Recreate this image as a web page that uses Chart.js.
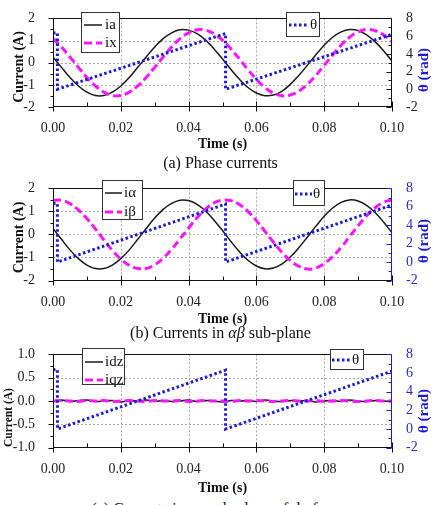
<!DOCTYPE html>
<html><head><meta charset="utf-8">
<script src="https://cdn.jsdelivr.net/npm/chart.js@4"></script>
<style>
html,body{margin:0;padding:0;background:#fff;}
body{width:441px;height:505px;position:relative;overflow:hidden;font-family:'Liberation Serif','Times New Roman',serif;}
.cv{position:absolute;left:0;width:441px;}
.cap{position:absolute;left:0;width:441px;text-align:center;font-size:16px;line-height:16px;color:#111;white-space:nowrap;}
</style></head><body>
<div class="cv" style="top:0px;height:155px"><canvas id="ca" width="441" height="155"></canvas></div>
<div class="cv" style="top:170px;height:157px"><canvas id="cb" width="441" height="157"></canvas></div>
<div class="cv" style="top:335px;height:163px"><canvas id="cc" width="441" height="163"></canvas></div>
<div class="cap" style="top:155px">(a) Phase currents</div>
<div class="cap" style="top:325px">(b) Currents in <i>αβ</i> sub-plane</div>
<div class="cap" style="top:501px">(c) Currents in xy sub-plane of dq frame</div>
<script>
const FONT = "'Liberation Serif','Times New Roman',serif";

// time samples (s)
const timeS = [0,0.0025,0.005,0.0075,0.01,0.0125,0.015,0.0175,0.02,0.0225,0.025,0.0275,0.03,0.0325,0.035,0.0375,0.04,0.0425,0.045,0.0475,0.05,0.0525,0.055,0.0575,0.06,0.0625,0.065,0.0675,0.07,0.0725,0.075,0.0775,0.08,0.0825,0.085,0.0875,0.09,0.0925,0.095,0.0975,0.1];
// (a) phase currents
const ia = [0.26,-0.21,-0.67,-1.05,-1.33,-1.48,-1.48,-1.33,-1.05,-0.67,-0.21,0.26,0.71,1.09,1.35,1.49,1.47,1.31,1.02,0.62,0.17,-0.31,-0.75,-1.12,-1.37,-1.49,-1.46,-1.29,-0.98,-0.58,-0.12,0.35,0.79,1.15,1.39,1.50,1.45,1.26,0.95,0.54,0.07];
const ix = [1.09,0.71,0.26,-0.21,-0.67,-1.05,-1.33,-1.48,-1.48,-1.33,-1.05,-0.67,-0.21,0.26,0.71,1.09,1.35,1.49,1.47,1.31,1.02,0.62,0.17,-0.31,-0.75,-1.12,-1.37,-1.49,-1.46,-1.29,-0.98,-0.58,-0.12,0.35,0.79,1.15,1.39,1.50,1.45,1.26,0.95];
// (b) alpha-beta currents
const iAlpha = [0.26,-0.21,-0.67,-1.05,-1.33,-1.48,-1.48,-1.33,-1.05,-0.67,-0.21,0.26,0.71,1.09,1.35,1.49,1.47,1.31,1.02,0.62,0.17,-0.31,-0.75,-1.12,-1.37,-1.49,-1.46,-1.29,-0.98,-0.58,-0.12,0.35,0.79,1.15,1.39,1.50,1.45,1.26,0.95,0.54,0.07];
const iBeta = [1.48,1.48,1.34,1.07,0.69,0.24,-0.24,-0.69,-1.07,-1.34,-1.48,-1.48,-1.32,-1.03,-0.65,-0.19,0.28,0.73,1.10,1.37,1.49,1.47,1.30,1.00,0.60,0.14,-0.33,-0.77,-1.13,-1.38,-1.50,-1.46,-1.27,-0.96,-0.56,-0.09,0.38,0.81,1.16,1.40,1.50];
// (c) dz / qz currents
const idz = [0.00,0.02,-0.01,0.01,0.02,-0.01,0.00,0.01,-0.02,0.01,0.00,0.02,-0.01,0.01,-0.01,0.00,0.02,-0.01,0.01,0.00,-0.02,0.01,0.00,0.01,-0.01,0.02,0.00,-0.01,0.01,0.00,0.01,-0.02,0.00,0.01,-0.01,0.02,0.00,-0.01,0.01,0.00,-0.01];
const iqz = [0.00,0.01,0.00,-0.01,0.01,0.00,0.01,-0.01,0.00,0.01,0.00,-0.01,0.01,0.00,0.00,0.01,-0.01,0.00,0.01,0.00,0.00,-0.01,0.01,0.00,0.01,0.00,-0.01,0.00,0.01,0.00,0.00,0.01,-0.01,0.00,0.01,0.00,-0.01,0.00,0.01,0.00,0.00];
// rotor angle theta (rad)
const thetaT = [0,0.0013,0.0013,0.0509,0.0509,0.1];
const thetaV = [6.35,6.35,0,6.3,0,6.2];

const BLACK='#1a1a1a', MAG='#ff14ff', BLUE='#1c1cd8';

function pts(t, v){ return t.map((tt,i)=>({x:tt,y:v[i]})); }
function curve(label, t, v, color, width, dash, tension){
  return {label, data: pts(t,v), borderColor:color, borderWidth:width, borderDash:dash, tension:tension,
          pointRadius:0, fill:false, yAxisID:'y', borderCapStyle:'butt'};
}
function thetaDs(){
  const d = curve('θ', thetaT, thetaV, BLUE, 3, [2.5,2.5], 0);
  d.yAxisID='y1'; return d;
}

const deco = {
  id:'deco',
  beforeDatasetsDraw(chart, args, o){
    const {ctx, chartArea:a} = chart; const x=chart.scales.x, y=chart.scales.y;
    ctx.save(); ctx.strokeStyle='#a8a8a8'; ctx.lineWidth=1; ctx.setLineDash([2,2]);
    x.ticks.forEach(t=>{const p=Math.round(x.getPixelForValue(t.value))+0.5; if(p<a.left+3||p>a.right-3)return;
      ctx.beginPath();ctx.moveTo(p,a.top);ctx.lineTo(p,a.bottom);ctx.stroke();});
    y.ticks.forEach(t=>{const p=Math.round(y.getPixelForValue(t.value))+0.5; if(p<a.top+3||p>a.bottom-3)return;
      ctx.beginPath();ctx.moveTo(a.left,p);ctx.lineTo(a.right,p);ctx.stroke();});
    ctx.restore();
  },
  afterDatasetsDraw(chart, args, o){
    const {ctx, chartArea:a} = chart; const x=chart.scales.x, y=chart.scales.y, y1=chart.scales.y1;
    const L=Math.round(a.left)+0.5, R=Math.round(a.right)-0.5, T=Math.round(a.top)+0.5, B=Math.round(a.bottom)-0.5;
    ctx.save(); ctx.lineWidth=1; ctx.setLineDash([]);
    const seg=(x1,yy1,x2,yy2,c)=>{ctx.strokeStyle=c;ctx.beginPath();ctx.moveTo(x1,yy1);ctx.lineTo(x2,yy2);ctx.stroke();};
    const K='#111', RC=o.rightColor;
    seg(L-0.5,T,R,T,K); seg(L-0.5,B,R,B,K); seg(L,T,L,B,K); seg(R,T,R,B+0.5,RC);
    const xt=x.ticks.map(t=>t.value);
    xt.forEach(v=>{const p=Math.round(x.getPixelForValue(v))+0.5; seg(p,B-5,p,B+5,K);});
    for(let i=0;i<xt.length-1;i++){const p=Math.round(x.getPixelForValue((xt[i]+xt[i+1])/2))+0.5; seg(p,B-4,p,B,K);}
    const yt=y.ticks.map(t=>t.value);
    yt.forEach(v=>{const p=Math.round(y.getPixelForValue(v))+0.5; seg(L-5,p,L,p,K);});
    for(let i=0;i<yt.length-1;i++){const p=Math.round(y.getPixelForValue((yt[i]+yt[i+1])/2))+0.5; seg(L-3,p,L,p,K);}
    const rt=y1.ticks.map(t=>t.value);
    rt.forEach(v=>{const p=Math.round(y1.getPixelForValue(v))+0.5; seg(R-5,p,R,p,RC);});
    for(let i=0;i<rt.length-1;i++){const p=Math.round(y1.getPixelForValue((rt[i]+rt[i+1])/2))+0.5; seg(R-3,p,R,p,RC);}
    // axis titles
    ctx.textAlign='center'; ctx.textBaseline='middle';
    const lt=o.leftTitle, rtt=o.rightTitle;
    ctx.fillStyle='#111'; ctx.font=`bold ${lt.size}px ${FONT}`;
    ctx.save(); ctx.translate(lt.x,lt.y); ctx.rotate(-Math.PI/2); ctx.fillText(lt.text,0,0); ctx.restore();
    ctx.fillStyle=BLUE; ctx.font=`bold ${rtt.size}px ${FONT}`;
    ctx.save(); ctx.translate(rtt.x,rtt.y); ctx.rotate(-Math.PI/2); ctx.fillText(rtt.text,0,0); ctx.restore();
    // legends
    o.legends.forEach(lg=>{
      ctx.fillStyle='#fff'; ctx.fillRect(lg.x0,lg.y0,lg.x1-lg.x0,lg.y1-lg.y0);
      ctx.strokeStyle='#333'; ctx.lineWidth=1; ctx.strokeRect(lg.x0+0.5,lg.y0+0.5,lg.x1-lg.x0-1,lg.y1-lg.y0-1);
      lg.items.forEach(it=>{
        const ds=chart.data.datasets[it.ds];
        ctx.save(); ctx.strokeStyle=ds.borderColor; ctx.lineWidth=ds.borderWidth; ctx.setLineDash(ds.borderDash||[]);
        ctx.beginPath(); ctx.moveTo(lg.sx0,it.y); ctx.lineTo(lg.sx1,it.y); ctx.stroke(); ctx.restore();
        ctx.fillStyle='#111'; ctx.font=`15px ${FONT}`; ctx.textAlign='left'; ctx.textBaseline='middle';
        ctx.fillText(ds.label, lg.tx, it.y);
      });
    });
    ctx.restore();
  }
};

function makeChart(id, s){
  return new Chart(document.getElementById(id), {
    type:'line',
    data:{datasets:s.datasets},
    options:{
      responsive:false, animation:false, devicePixelRatio:1,
      layout:{padding:{top:s.plotTop,left:0,right:0,bottom:0}},
      plugins:{legend:{display:false}, tooltip:{enabled:false}, deco:s.deco},
      scales:{
        x:{type:'linear', min:0, max:0.1, grid:{display:false}, border:{display:false},
           ticks:{stepSize:0.02, padding:5, color:'#222', maxRotation:0, autoSkip:false,
                  font:{family:FONT,size:14}, callback:v=>v.toFixed(2)},
           title:{display:true, text:'Time (s)', color:'#111', font:{family:FONT,size:14,weight:'bold'},
                  padding:{top:0,bottom:s.H-s.timeY-8.4}},
           afterFit:sc=>{sc.height=s.H-s.plotBottom;}},
        y:{position:'left', min:s.yMin, max:s.yMax, grid:{display:false}, border:{display:false},
           ticks:{stepSize:s.yStep, padding:10, color:'#222', autoSkip:false, font:{family:FONT,size:14},
                  callback:v=>v.toFixed(s.yDec)},
           afterFit:sc=>{sc.width=53;}},
        y1:{position:'right', min:-2, max:8, grid:{display:false}, border:{display:false},
           ticks:{stepSize:2, padding:6, autoSkip:false, color:s.deco.rightTickColor, font:{family:FONT,size:14}},
           afterFit:sc=>{sc.width=49;}}
      }
    },
    plugins:[deco]
  });
}

makeChart('ca', {
  H:155, plotTop:11.5, plotBottom:107, timeY:144, yMin:-2, yMax:2, yStep:1, yDec:0,
  datasets:[thetaDs(), curve('ix',timeS,ix,MAG,3,[8,4],0.4), curve('ia',timeS,ia,BLACK,1.5,[],0.4)],
  deco:{rightColor:'#111', rightTickColor:'#222',
    leftTitle:{text:'Current (A)', x:19, y:67, size:14},
    rightTitle:{text:'θ (rad)', x:424, y:70, size:15},
    legends:[
      {x0:81,y0:12,x1:120,y1:53,sx0:84,sx1:102,tx:105,items:[{ds:2,y:25},{ds:1,y:43}]},
      {x0:286,y0:12,x1:320,y1:37,sx0:289,sx1:308,tx:310,items:[{ds:0,y:25}]}
    ]}
});
makeChart('cb', {
  H:157, plotTop:12.5, plotBottom:110.5, timeY:149, yMin:-2, yMax:2, yStep:1, yDec:0,
  datasets:[thetaDs(), curve('iβ',timeS,iBeta,MAG,3,[8,4],0.4), curve('iα',timeS,iAlpha,BLACK,1.5,[],0.4)],
  deco:{rightColor:BLUE, rightTickColor:'#2a2ad0',
    leftTitle:{text:'Current (A)', x:19, y:67.5, size:14},
    rightTitle:{text:'θ (rad)', x:424, y:71, size:15},
    legends:[
      {x0:102,y0:10,x1:143,y1:50,sx0:105,sx1:122,tx:124,items:[{ds:2,y:23},{ds:1,y:42}]},
      {x0:293,y0:10,x1:325,y1:36,sx0:295,sx1:312,tx:313,items:[{ds:0,y:24}]}
    ]}
});
makeChart('cc', {
  H:163, plotTop:19.3, plotBottom:112.7, timeY:153, yMin:-1, yMax:1, yStep:0.5, yDec:1,
  datasets:[thetaDs(), curve('iqz',timeS,iqz,MAG,3,[8,4],0.4), curve('idz',timeS,idz,BLACK,1.5,[],0.4)],
  deco:{rightColor:BLUE, rightTickColor:'#2a2ad0',
    leftTitle:{text:'Current (A)', x:9, y:82.5, size:11.5},
    rightTitle:{text:'θ (rad)', x:424, y:76, size:15},
    legends:[
      {x0:82,y0:13,x1:125,y1:50,sx0:85,sx1:103,tx:105,items:[{ds:2,y:27},{ds:1,y:45}]},
      {x0:330,y0:14,x1:364,y1:35,sx0:332,sx1:350,tx:352,items:[{ds:0,y:25}]}
    ]}
});
</script>
</body></html>
